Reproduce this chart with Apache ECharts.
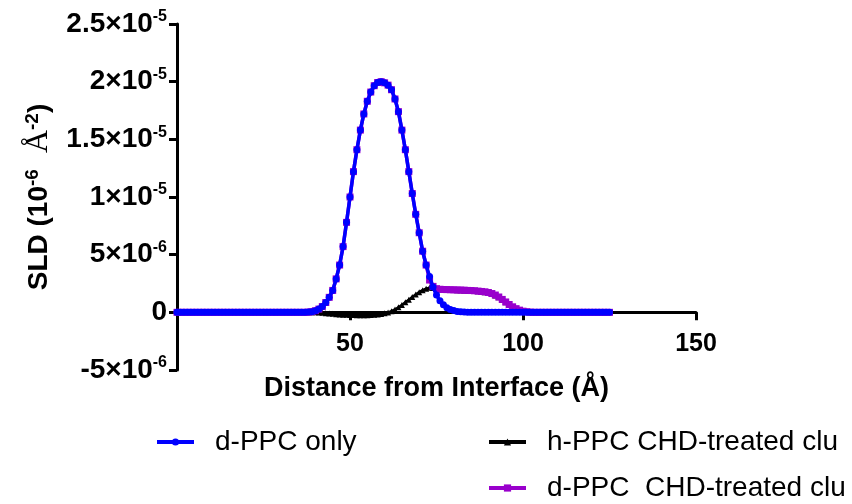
<!DOCTYPE html>
<html>
<head>
<meta charset="utf-8">
<script src="https://cdn.jsdelivr.net/npm/echarts@6/dist/echarts.min.js"></script>
<style>
html,body{margin:0;padding:0;background:#fff;}
#chart{width:852px;height:504px;}
</style>
</head>
<body>
<div id="chart"></div>
<script>
// Distance from interface (Å)
const distance = [
  0,1,2,3,4,5,6,7,8,9,
  10,11,12,13,14,15,16,17,18,19,
  20,21,22,23,24,25,26,27,28,29,
  30,31,32,33,34,35,36,37,38,39,
  40,41,42,43,44,45,46,47,48,49,
  50,51,52,53,54,55,56,57,58,59,
  60,61,62,63,64,65,66,67,68,69,
  70,71,72,73,74,75,76,77,78,79,
  80,81,82,83,84,85,86,87,88,89,
  90,91,92,93,94,95,96,97,98,99,
  100,101,102,103,104,105,106,107,108,109,
  110,111,112,113,114,115,116,117,118,119,
  120,121,122,123,124,125
];

// SLD values in units of 1e-5 Å^-2
const dPpcOnly = [
  0,0,0,0,0,0,0,0,0,0,
  0,0,0,0,0,0,0,0,0,0,
  0,0,0,0,0,0,0,0,0,0,
  0,0,0,0,0,0,0,0,0.002,0.006,
  0.014,0.028,0.05,0.085,0.13,0.19,0.29,0.41,0.57,0.78,
  1.00,1.22,1.41,1.58,1.72,1.83,1.91,1.965,1.993,2.0,
  1.99,1.97,1.93,1.85,1.74,1.58,1.41,1.22,1.03,0.85,
  0.69,0.53,0.41,0.31,0.22,0.15,0.10,0.065,0.04,0.025,
  0.015,0.008,0.004,0.002,0,0,0,0,0,0,
  0,0,0,0,0,0,0,0,0,0,
  0,0,0,0,0,0,0,0,0,0,
  0,0,0,0,0,0,0,0,0,0,
  0,0,0,0,0,0
];

const hPpcChd = [
  0,0,0,0,0,0,0,0,0,0,
  0,0,0,0,0,0,0,0,0,0,
  0,0,0,0,0,0,0,0,0,0,
  0,0,0,0,0,0,0,0,0,0,
  0,-0.002,-0.004,-0.007,-0.01,-0.013,-0.016,-0.018,-0.02,-0.022,
  -0.023,-0.024,-0.025,-0.025,-0.025,-0.025,-0.024,-0.022,-0.019,-0.015,
  -0.009,-0.001,0.01,0.025,0.043,0.064,0.087,0.11,0.133,0.155,
  0.175,0.192,0.205,0.213,0.21,0.203,0.199,0.196,0.195,0.194,
  0.193,0.192,0.191,0.19,0.188,0.187,0.185,0.182,0.179,0.175,
  0.169,0.16,0.147,0.13,0.11,0.088,0.066,0.047,0.031,0.018,
  0.009,0.004,0.001,0,0,0,0,0,0,0,
  0,0,0,0,0,0,0,0,0,0,
  0,0,0,0,0,0
];

const dPpcChd = [
  0,0,0,0,0,0,0,0,0,0,
  0,0,0,0,0,0,0,0,0,0,
  0,0,0,0,0,0,0,0,0,0,
  0,0,0,0,0,0,0,0,0.002,0.006,
  0.014,0.028,0.05,0.085,0.13,0.19,0.29,0.41,0.57,0.78,
  1.00,1.22,1.41,1.58,1.72,1.83,1.91,1.965,1.993,2.0,
  1.99,1.97,1.93,1.85,1.74,1.58,1.41,1.22,1.03,0.85,
  0.69,0.53,0.41,0.28,0.225,0.205,0.2,0.198,0.197,0.196,
  0.195,0.194,0.193,0.192,0.19,0.189,0.187,0.184,0.181,0.178,
  0.172,0.163,0.15,0.133,0.112,0.09,0.068,0.048,0.032,0.019,
  0.01,0.005,0.002,0,0,0,0,0,0,0,
  0,0,0,0,0,0,0,0,0,0,
  0,0,0,0,0,0
];

const seriesNames = ['d-PPC only', 'h-PPC CHD-treated clu', 'd-PPC  CHD-treated clu'];

// Tick labels
const xTickLabels = ['', '50', '100', '150'];
const yTickMantissa = ['-5', '0', '5', '1', '1.5', '2', '2.5'];
const yTickExponent = ['-6', '', '-6', '-5', '-5', '-5', '-5'];

const FONT = 'Liberation Sans, Arial, sans-serif';

function pairs(ys) { return distance.map((x, i) => [x, ys[i]]); }

const chart = echarts.init(document.getElementById('chart'), null, {renderer: 'canvas'});

const GRID_TOP = 24, GRID_BOTTOM_PX = 370;
const Y_MIN = -0.5, Y_MAX = 2.5;
// move the x axis up so that it sits on y = 0
const zeroOffset = -(GRID_BOTTOM_PX - GRID_TOP) * (0 - Y_MIN) / (Y_MAX - Y_MIN);

const legendBase = {
  orient: 'horizontal',
  padding: 0,
  itemWidth: 37,
  itemHeight: 9,
  selectedMode: false,
  lineStyle: {width: 4},
  textStyle: {fontSize: 28, fontFamily: FONT, color: '#000', padding: [0, 0, 0, 16], lineHeight: 30}
};

chart.setOption({
  animation: false,
  backgroundColor: '#fff',
  grid: {left: 177, right: 156, top: GRID_TOP, bottom: 504 - GRID_BOTTOM_PX, containLabel: false},
  legend: [
    Object.assign({}, legendBase, {data: [seriesNames[0]], left: 155, top: 427}),
    Object.assign({}, legendBase, {data: [seriesNames[1]], left: 487, top: 427}),
    Object.assign({}, legendBase, {data: [seriesNames[2]], left: 487, top: 473})
  ],
  xAxis: {
    type: 'value',
    min: 0, max: 150, interval: 50,
    offset: zeroOffset,
    name: 'Distance from Interface (Å)',
    nameLocation: 'middle',
    nameGap: 63,
    nameTextStyle: {fontSize: 27, fontWeight: 'bold', fontFamily: FONT, color: '#000'},
    axisLine: {onZero: false, lineStyle: {color: '#000', width: 3}},
    axisTick: {show: true, length: 8, lineStyle: {color: '#000', width: 3}},
    axisLabel: {
      margin: 19, fontSize: 25, fontWeight: 'bold', fontFamily: FONT, color: '#000',
      formatter: v => xTickLabels[Math.round(v / 50)] || ''
    },
    splitLine: {show: false}
  },
  yAxis: {
    type: 'value',
    min: Y_MIN, max: Y_MAX, interval: 0.5,
    name: '{t|SLD (10}{s|-6}{a|  Å}{s|-2}{t|)}',
    nameLocation: 'middle',
    nameRotate: 90,
    nameGap: 122,
    nameTextStyle: {
      color: '#000',
      rich: {
        t: {fontSize: 28, fontWeight: 'bold', fontFamily: FONT, color: '#000', lineHeight: 32},
        s: {fontSize: 19, fontWeight: 'bold', fontFamily: FONT, color: '#000', verticalAlign: 'top', lineHeight: 18},
        a: {fontSize: 32, fontFamily: 'Liberation Serif, Times New Roman, serif', color: '#000', lineHeight: 32}
      }
    },
    axisLine: {show: true, lineStyle: {color: '#000', width: 3}},
    axisTick: {show: true, length: 8, lineStyle: {color: '#000', width: 3}},
    axisLabel: {
      margin: 10,
      formatter: function (v) {
        const i = Math.round((v - Y_MIN) / 0.5);
        const m = yTickMantissa[i];
        const e = yTickExponent[i];
        if (m === undefined) return '';
        if (!e) return '{m|' + m + '}';
        return '{m|' + m + '×10}{s|' + e + '}';
      },
      rich: {
        m: {fontSize: 28, fontWeight: 'bold', fontFamily: FONT, color: '#000', lineHeight: 30},
        s: {fontSize: 16, fontWeight: 'bold', fontFamily: FONT, color: '#000', verticalAlign: 'top', lineHeight: 16}
      }
    },
    splitLine: {show: false}
  },
  series: [
    {
      name: seriesNames[0], type: 'line', data: pairs(dPpcOnly), z: 4,
      color: '#0000FF',
      symbol: 'circle', symbolSize: 7, showAllSymbol: true,
      lineStyle: {width: 3.5, color: '#0000FF'},
      itemStyle: {color: '#0000FF'}
    },
    {
      name: seriesNames[1], type: 'line', data: pairs(hPpcChd), z: 2,
      color: '#000000',
      symbol: 'triangle', symbolSize: 6, showAllSymbol: true,
      lineStyle: {width: 2.5, color: '#000000'},
      itemStyle: {color: '#000000'}
    },
    {
      name: seriesNames[2], type: 'line', data: pairs(dPpcChd), z: 3,
      color: '#9900CC',
      symbol: 'rect', symbolSize: 7, showAllSymbol: true,
      lineStyle: {width: 3.5, color: '#9900CC'},
      itemStyle: {color: '#9900CC'}
    }
  ]
});
</script>
</body>
</html>
